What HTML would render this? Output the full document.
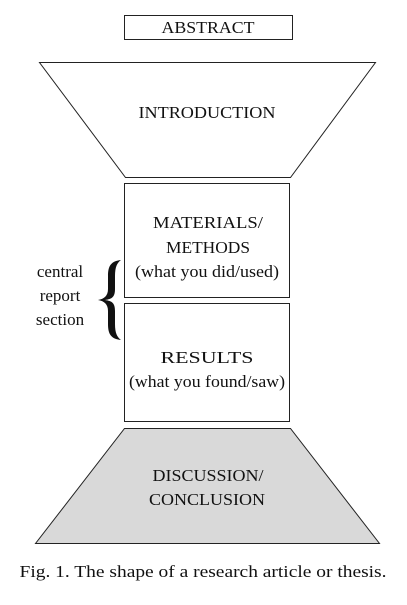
<!DOCTYPE html>
<html><head><meta charset="utf-8"><style>
html,body{margin:0;padding:0;background:#fff;}
svg{display:block;}
text{font-family:"Liberation Serif",serif;fill:#111;}
</style></head><body>
<svg width="407" height="605" viewBox="0 0 407 605" xmlns="http://www.w3.org/2000/svg">
<rect x="124.5" y="15.5" width="168" height="24" fill="#fff" stroke="#222" stroke-width="1"/>
<text x="208" y="33" font-size="17" text-anchor="middle" textLength="93" lengthAdjust="spacingAndGlyphs">ABSTRACT</text>
<polygon points="39.5,62.5 375.5,62.5 290.5,177.5 125.5,177.5" fill="#fff" stroke="#222" stroke-width="1"/>
<text x="207" y="118" font-size="17" text-anchor="middle" textLength="137" lengthAdjust="spacingAndGlyphs">INTRODUCTION</text>
<rect x="124.5" y="183.5" width="165" height="114" fill="#fff" stroke="#222" stroke-width="1"/>
<text x="208" y="228" font-size="17" text-anchor="middle" textLength="110" lengthAdjust="spacingAndGlyphs">MATERIALS/</text>
<text x="208" y="253" font-size="17" text-anchor="middle" textLength="84" lengthAdjust="spacingAndGlyphs">METHODS</text>
<text x="207" y="277" font-size="17" text-anchor="middle" textLength="144" lengthAdjust="spacingAndGlyphs">(what you did/used)</text>
<rect x="124.5" y="303.5" width="165" height="118" fill="#fff" stroke="#222" stroke-width="1"/>
<text x="207" y="363" font-size="17" text-anchor="middle" textLength="93" lengthAdjust="spacingAndGlyphs">RESULTS</text>
<text x="207" y="387" font-size="17" text-anchor="middle" textLength="156" lengthAdjust="spacingAndGlyphs">(what you found/saw)</text>
<polygon points="124.5,428.5 290.5,428.5 379.5,543.5 35.5,543.5" fill="#d9d9d9" stroke="#222" stroke-width="1"/>
<text x="208" y="481" font-size="17" text-anchor="middle" textLength="111" lengthAdjust="spacingAndGlyphs">DISCUSSION/</text>
<text x="207" y="505" font-size="17" text-anchor="middle" textLength="116" lengthAdjust="spacingAndGlyphs">CONCLUSION</text>
<text x="60" y="277" font-size="17" text-anchor="middle">central</text>
<text x="60" y="301" font-size="17" text-anchor="middle">report</text>
<text x="60" y="325" font-size="17" text-anchor="middle">section</text>
<path d="M121,260 C111,261 108,266 108,276 L108,289 C108,296 104,299 98,300 C104,301 108,304 108,311 L108,324 C108,334 111,339 121,340 C117,337 115,333 115,324 L115,311 C115,303 112,301 105,300 C112,299 115,297 115,289 L115,276 C115,267 117,263 121,260 Z" fill="#111"/>
<text x="203" y="577" font-size="17" text-anchor="middle" textLength="367" lengthAdjust="spacingAndGlyphs">Fig. 1. The shape of a research article or thesis.</text>
</svg>
</body></html>
